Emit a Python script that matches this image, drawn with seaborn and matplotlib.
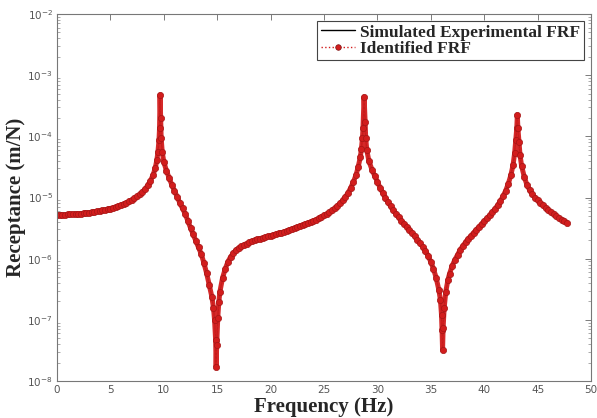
import numpy as np
import pandas as pd
import matplotlib
matplotlib.use("Agg")
import matplotlib.pyplot as plt
import seaborn as sns
from matplotlib.ticker import LogLocator, FixedLocator, NullFormatter

# FRF values (frequency in Hz, receptance in m/N)
# low-frequency plateau up to the first resonance
freq_a = [0, 0.25, 0.5, 0.75, 1, 1.25, 1.5, 1.75, 2, 2.25, 2.5, 2.75, 3, 3.25, 3.5,
          3.75, 4, 4.25, 4.5, 4.75, 5, 5.25, 5.5, 5.75, 6, 6.25, 6.5, 6.75, 7, 7.25,
          7.5, 7.75, 8, 8.25, 8.5]
rec_a = [5.20e-6, 5.20e-6, 5.20e-6, 5.20e-6, 5.29e-6, 5.29e-6, 5.34e-6, 5.40e-6, 5.40e-6,
         5.46e-6, 5.52e-6, 5.60e-6, 5.64e-6, 5.73e-6, 5.82e-6, 5.93e-6, 6.04e-6, 6.15e-6,
         6.27e-6, 6.44e-6, 6.61e-6, 6.81e-6, 7.02e-6, 7.29e-6, 7.57e-6, 7.86e-6, 8.22e-6,
         8.64e-6, 9.14e-6, 9.74e-6, 1.04e-5, 1.12e-5, 1.23e-5, 1.38e-5, 1.58e-5]

# first resonance
freq_b = [8.75, 9, 9.2, 9.35, 9.45, 9.55, 9.6, 9.65, 9.7, 9.75, 9.85, 10]
rec_b = [1.87e-5, 2.34e-5, 3.04e-5, 4.12e-5, 5.56e-5, 8.73e-5, 1.37e-4, 4.75e-4,
         2.00e-4, 9.41e-5, 5.56e-5, 3.82e-5]

freq_c = [10.25, 10.5, 10.75, 11, 11.25, 11.5, 11.75, 12, 12.25, 12.5, 12.75, 13,
          13.25, 13.5, 13.75, 14, 14.25, 14.5]
rec_c = [2.72e-5, 2.09e-5, 1.61e-5, 1.28e-5, 1.02e-5, 8.16e-6, 6.64e-6, 5.40e-6,
         4.15e-6, 3.19e-6, 2.49e-6, 1.95e-6, 1.53e-6, 1.20e-6, 8.54e-7, 5.86e-7,
         3.73e-7, 2.38e-7]

# first anti-resonance
freq_d = [14.65, 14.75, 14.85, 14.9, 14.95, 15.05, 15.15, 15.25, 15.5, 15.75]
rec_d = [1.57e-7, 1.00e-7, 4.71e-8, 1.71e-8, 3.90e-8, 1.08e-7, 1.97e-7, 2.87e-7,
         4.86e-7, 6.81e-7]

freq_e = [16, 16.25, 16.5, 16.75, 17, 17.25, 17.5, 17.75, 18, 18.25, 18.5, 18.75,
          19, 19.25, 19.5, 19.75, 20, 20.25, 20.5, 20.75, 21, 21.25, 21.5, 21.75,
          22, 22.25, 22.5, 22.75, 23, 23.25, 23.5, 23.75, 24, 24.25, 24.5, 24.75,
          25, 25.25, 25.5, 25.75, 26, 26.25, 26.5, 26.75, 27, 27.25, 27.5, 27.75]
rec_e = [8.87e-7, 1.07e-6, 1.22e-6, 1.37e-6, 1.50e-6, 1.59e-6, 1.68e-6, 1.77e-6,
         1.85e-6, 1.92e-6, 1.99e-6, 2.07e-6, 2.13e-6, 2.19e-6, 2.25e-6, 2.31e-6,
         2.38e-6, 2.45e-6, 2.52e-6, 2.59e-6, 2.67e-6, 2.74e-6, 2.85e-6, 2.95e-6,
         3.07e-6, 3.19e-6, 3.31e-6, 3.43e-6, 3.57e-6, 3.70e-6, 3.85e-6, 3.99e-6,
         4.15e-6, 4.35e-6, 4.57e-6, 4.82e-6, 5.10e-6, 5.40e-6, 5.71e-6, 6.15e-6,
         6.64e-6, 7.29e-6, 8.01e-6, 8.97e-6, 1.02e-5, 1.19e-5, 1.44e-5, 1.80e-5]

# second resonance
freq_f = [28, 28.2, 28.4, 28.5, 28.6, 28.65, 28.75, 28.85, 28.9, 29, 29.2, 29.5]
rec_f = [2.34e-5, 3.16e-5, 4.61e-5, 6.22e-5, 9.41e-5, 1.37e-4, 4.40e-4, 1.72e-4,
         9.41e-5, 6.00e-5, 3.96e-5, 2.82e-5]

freq_g = [29.75, 30, 30.25, 30.5, 30.75, 31, 31.25, 31.5, 31.75, 32, 32.25, 32.5,
          32.75, 33, 33.25, 33.5, 33.75, 34, 34.25, 34.5, 34.75, 35, 35.25, 35.5, 35.75]
rec_g = [2.25e-5, 1.80e-5, 1.44e-5, 1.19e-5, 9.85e-6, 8.32e-6, 7.15e-6, 6.15e-6,
         5.40e-6, 4.73e-6, 4.15e-6, 3.70e-6, 3.31e-6, 2.95e-6, 2.64e-6, 2.31e-6,
         2.03e-6, 1.78e-6, 1.56e-6, 1.34e-6, 1.11e-6, 8.87e-7, 6.81e-7, 4.86e-7, 3.09e-7]

# second anti-resonance
freq_h = [35.9, 36, 36.05, 36.1, 36.15, 36.25, 36.4, 36.6, 36.75]
rec_h = [2.12e-7, 1.21e-7, 6.86e-8, 3.23e-8, 7.40e-8, 1.57e-7, 2.87e-7, 4.50e-7, 5.64e-7]

freq_i = [37, 37.25, 37.5, 37.75, 38, 38.25, 38.5, 38.75, 39, 39.25, 39.5, 39.75,
          40, 40.25, 40.5, 40.75, 41, 41.25, 41.5, 41.75, 42, 42.25, 42.5]
rec_i = [7.63e-7, 9.56e-7, 1.15e-6, 1.39e-6, 1.62e-6, 1.85e-6, 2.11e-6, 2.36e-6,
         2.64e-6, 2.95e-6, 3.31e-6, 3.70e-6, 4.07e-6, 4.55e-6, 5.10e-6, 5.71e-6,
         6.51e-6, 7.43e-6, 8.64e-6, 1.04e-5, 1.28e-5, 1.67e-5, 2.34e-5]

# third resonance
freq_j = [42.7, 42.85, 42.95, 43.05, 43.1, 43.15, 43.25, 43.35, 43.5]
rec_j = [3.41e-5, 5.36e-5, 8.73e-5, 1.37e-4, 2.24e-4, 1.37e-4, 8.10e-5, 4.97e-5, 3.28e-5]

freq_k = [43.75, 44, 44.25, 44.5, 44.75, 45, 45.25, 45.5, 45.75, 46, 46.25, 46.5,
          46.75, 47, 47.25, 47.5, 47.75]
rec_k = [2.17e-5, 1.61e-5, 1.33e-5, 1.14e-5, 1.00e-5, 8.97e-6, 8.16e-6, 7.43e-6,
         6.76e-6, 6.15e-6, 5.71e-6, 5.29e-6, 4.91e-6, 4.55e-6, 4.31e-6, 4.07e-6, 3.85e-6]

x_ticks = [0, 5, 10, 15, 20, 25, 30, 35, 40, 45, 50]
y_ticks = [1e-8, 1e-7, 1e-6, 1e-5, 1e-4, 1e-3, 1e-2]
y_ticklabels = ["$10^{-8}$", "$10^{-7}$", "$10^{-6}$", "$10^{-5}$",
                "$10^{-4}$", "$10^{-3}$", "$10^{-2}$"]

freq = freq_a + freq_b + freq_c + freq_d + freq_e + freq_f + freq_g + freq_h + freq_i + freq_j + freq_k
rec = rec_a + rec_b + rec_c + rec_d + rec_e + rec_f + rec_g + rec_h + rec_i + rec_j + rec_k
df = pd.DataFrame({"freq": freq, "rec": rec})

sns.set_style("white")
serif = ["Liberation Serif", "DejaVu Serif"]
red = "#d21d1d"

fig = plt.figure(figsize=(5.97, 4.18), dpi=100)
ax = fig.add_axes([0.0955, 0.0885, 0.8945, 0.878])

sns.lineplot(data=df, x="freq", y="rec", ax=ax, color="black", linewidth=1.0,
             estimator=None, sort=False, label="Simulated Experimental FRF")
# the densely sampled identified FRF shows up as a thick red band
sns.lineplot(data=df, x="freq", y="rec", ax=ax, color=red, linewidth=3.6,
             solid_capstyle="round", solid_joinstyle="round", alpha=0.95,
             estimator=None, sort=False, legend=False)
sns.lineplot(data=df, x="freq", y="rec", ax=ax, color=red, linewidth=1.0,
             linestyle=":", marker="o", markersize=4.5, markerfacecolor=red,
             markeredgecolor="#a51616", markeredgewidth=0.5,
             estimator=None, sort=False, label="Identified FRF")

ax.set_yscale("log")
ax.set_xlim(0, 50)
ax.set_ylim(1e-8, 1e-2)
ax.xaxis.set_major_locator(FixedLocator(x_ticks))
ax.set_xticklabels([str(t) for t in x_ticks])
ax.yaxis.set_major_locator(FixedLocator(y_ticks))
ax.set_yticklabels(y_ticklabels)
ax.yaxis.set_minor_locator(LogLocator(base=10, subs=np.arange(2, 10), numticks=20))
ax.yaxis.set_minor_formatter(NullFormatter())

ax.tick_params(which="major", direction="in", top=True, right=True, length=4,
               width=0.6, color="#666666", labelsize=7.5, labelcolor="#555555", pad=3)
ax.tick_params(which="minor", direction="in", left=True, right=True, length=2,
               width=0.5, color="#888888")
for s in ax.spines.values():
    s.set_color("#777777")
    s.set_linewidth(0.8)

ax.set_xlabel("Frequency (Hz)", fontsize=15, fontweight="bold", family=serif, labelpad=1)
ax.set_ylabel("Receptance (m/N)", fontsize=15, fontweight="bold", family=serif, labelpad=1)

leg = ax.legend(loc="upper right", prop={"family": serif, "weight": "bold", "size": 12.5},
                frameon=True, fancybox=False, framealpha=1, edgecolor="#444444",
                borderpad=0.2, labelspacing=0.0, handlelength=2.0, handletextpad=0.3,
                borderaxespad=0.4)
leg.get_frame().set_linewidth(0.8)
for h in leg.get_lines():
    h.set_markersize(4)
    h.set_markeredgecolor("#7a1010")

fig.savefig("out.png", dpi=100)
